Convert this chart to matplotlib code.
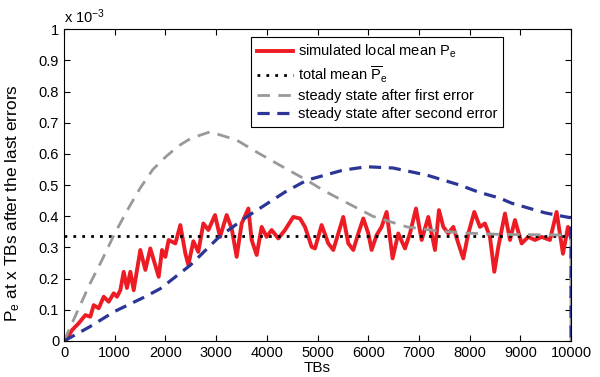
import matplotlib
matplotlib.use("Agg")
import matplotlib.pyplot as plt

plt.rcParams['font.family'] = ['Liberation Sans', 'DejaVu Sans']
plt.rcParams['mathtext.fontset'] = 'custom'
plt.rcParams['mathtext.rm'] = 'Liberation Sans'
plt.rcParams['mathtext.it'] = 'Liberation Sans'

# values in units of 1e-3
red_x = [0, 26, 158, 290, 421, 519, 585, 684, 783, 881, 980, 1045, 1111, 1177, 1241,
         1308, 1374, 1505, 1604, 1702, 1867, 1933, 1998, 2064, 2196, 2294, 2393,
         2452, 2551, 2649, 2748, 2847, 2978, 3077, 3208, 3307, 3405, 3504, 3636,
         3701, 3800, 3898, 3997, 4095, 4227, 4358, 4522, 4654, 4753, 4884, 4950,
         5081, 5212, 5311, 5410, 5508, 5607, 5706, 5804, 5903, 6002, 6067, 6166,
         6264, 6363, 6481, 6593, 6725, 6823, 6942, 7054, 7185, 7317, 7395, 7481,
         7579, 7678, 7777, 7875, 7974, 8092, 8204, 8302, 8401, 8487, 8566, 8697,
         8796, 8894, 9026, 9157, 9289, 9420, 9584, 9716, 9841, 9940, 10000]
red_y = [0.0, 0.0, 0.035, 0.057, 0.083, 0.078, 0.115, 0.105, 0.142, 0.126, 0.153, 0.142,
         0.163, 0.222, 0.17, 0.222, 0.163, 0.292, 0.228, 0.297, 0.206, 0.292, 0.27,
         0.324, 0.313, 0.372, 0.281,
         0.244, 0.32, 0.286, 0.377, 0.356, 0.404, 0.334, 0.404, 0.361, 0.27, 0.377,
         0.425, 0.324, 0.276, 0.366, 0.334, 0.356, 0.329, 0.356, 0.398, 0.393, 0.366,
         0.302, 0.297, 0.372, 0.313, 0.292, 0.345, 0.398, 0.313, 0.292, 0.345, 0.393,
         0.345, 0.292, 0.34, 0.366, 0.414, 0.265, 0.345, 0.297, 0.345, 0.425, 0.324,
         0.398, 0.292, 0.42, 0.366, 0.345, 0.366, 0.313, 0.265, 0.345, 0.414, 0.366,
         0.377, 0.334, 0.222, 0.302, 0.409, 0.324, 0.388, 0.313, 0.334, 0.324, 0.334,
         0.324, 0.414, 0.28, 0.366, 0.33]

total_mean = 0.337

gray_x = [0, 250, 500, 750, 1000, 1250, 1500, 1750, 2000, 2250, 2500, 2880, 3400,
          3865, 4300, 4786, 5107, 5502, 6093, 6764, 7375, 7970, 8600, 10000, 10000]
gray_y = [0, 0.09, 0.18, 0.26, 0.345, 0.42, 0.49, 0.55, 0.59, 0.625, 0.65, 0.671, 0.645,
          0.60, 0.56, 0.516, 0.484, 0.45, 0.40, 0.366, 0.353, 0.346, 0.342, 0.34, 0]

blue_x = [0, 500, 1000, 1600, 1900, 2490, 3060, 3600, 4360, 4790, 5500, 5970, 6490,
          7160, 7810, 8170, 8600, 8830, 9490, 10000, 10000]
blue_y = [0, 0.045, 0.095, 0.142, 0.168, 0.243, 0.334, 0.398, 0.478, 0.516, 0.548,
          0.559, 0.555, 0.532, 0.50, 0.478, 0.458, 0.442, 0.411, 0.395, 0]

fig = plt.figure(figsize=(6, 3.77), dpi=100)
ax = fig.add_axes([0.1067, 0.0955, 0.845, 0.8268])

ax.plot(red_x, red_y, color='#ed1c24', lw=2.8, label=r'simulated local mean $\mathregular{P_e}$')
ax.plot([0, 10000], [total_mean, total_mean], color='black', lw=2, ls=(0, (1, 2.2)),
        label=r'total mean $\mathregular{\overline{P}_e}$')
ax.plot(gray_x, gray_y, color='#999999', lw=2, ls=(0, (4.5, 3)),
        label='steady state after first error')
ax.plot(blue_x, blue_y, color='#2b3595', lw=2.3, ls=(0, (3.8, 2.4)),
        label='steady state after second error')

ax.set_xlim(0, 10000)
ax.set_ylim(0, 1)
ax.set_xticks(range(0, 10001, 1000))
ax.set_yticks([i / 10 for i in range(11)])
ax.set_yticklabels(['0'] + ['0.%d' % i for i in range(1, 10)] + ['1'])
ax.tick_params(direction='in', top=True, right=True, labelsize=10.5, length=4, width=0.8)
for s in ax.spines.values():
    s.set_linewidth(0.8)

ax.set_xlabel('TBs', fontsize=11, labelpad=0.5)
ax.set_ylabel(r'$\mathregular{P_e}$ at x TBs after the last errors', fontsize=12.4)
ax.yaxis.set_label_coords(-0.083, 0.443)
ax.text(0.0, 1.01, r'x 10$^{\mathregular{-3}}$', transform=ax.transAxes, fontsize=10.5,
        ha='left', va='bottom')

leg = ax.legend(loc='upper right', bbox_to_anchor=(0.866, 0.975), fontsize=10.5,
                handlelength=2.5, handletextpad=0.3, labelspacing=0.3, borderpad=0.4,
                fancybox=False, framealpha=1, edgecolor='black', borderaxespad=0)
leg.get_frame().set_linewidth(0.8)

fig.savefig('out.png', dpi=100)
